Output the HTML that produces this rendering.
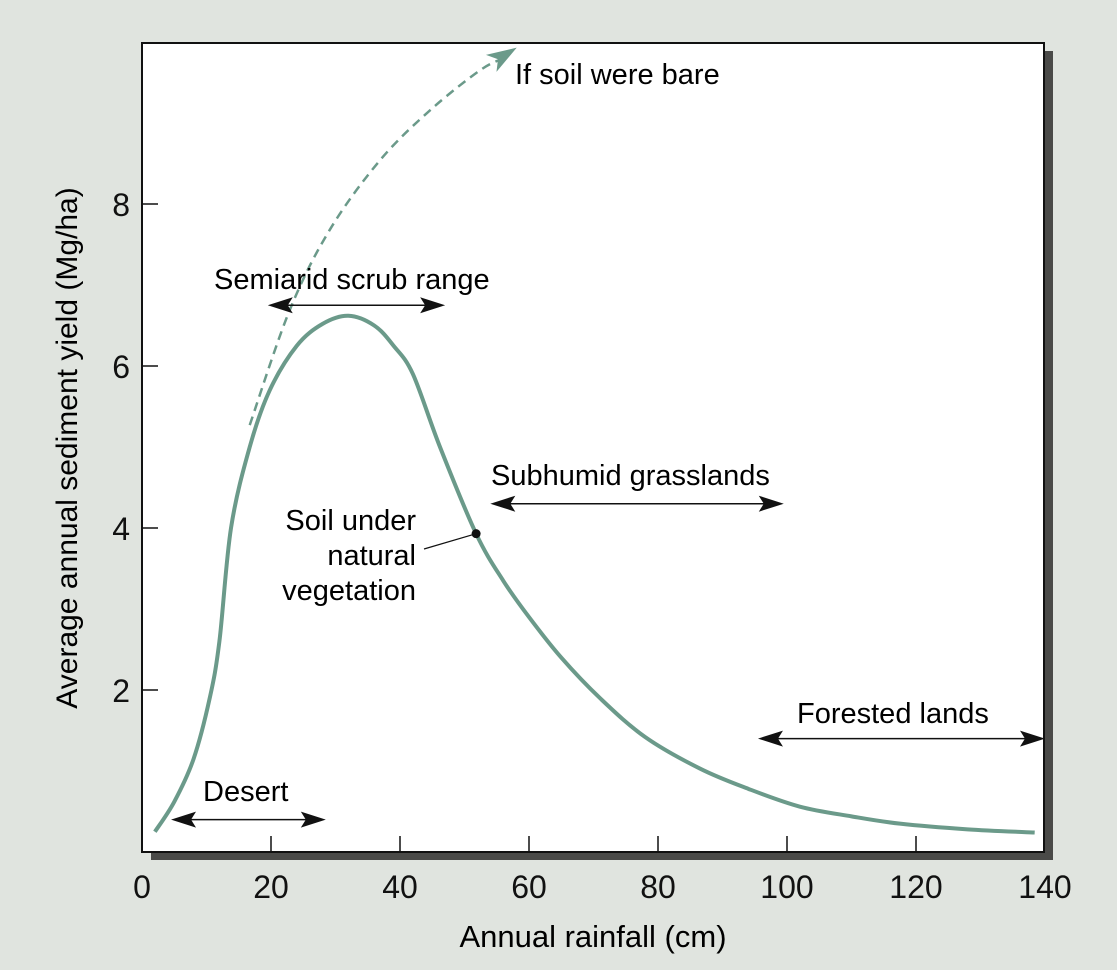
<!DOCTYPE html>
<html><head><meta charset="utf-8"><style>
body{margin:0;background:#e0e4df;}
svg{display:block;font-family:"Liberation Sans",sans-serif;}
</style></head><body>
<svg width="1117" height="970" viewBox="0 0 1117 970">
<rect x="0" y="0" width="1117" height="970" fill="#e0e4df"/>
<rect x="151" y="51" width="902" height="809" fill="#4a4a48"/>
<rect x="142" y="43" width="902" height="809" fill="#fff" stroke="#111" stroke-width="2"/>
<g id="ticks"></g>
<g id="marks"></g>
<text x="515" y="84" font-size="29">If soil were bare</text>
<text x="214" y="289" font-size="29">Semiarid scrub range</text>
<text x="491" y="485" font-size="29">Subhumid grasslands</text>
<text x="797" y="723" font-size="29">Forested lands</text>
<text x="203" y="801" font-size="29">Desert</text>
<g font-size="29" text-anchor="end">
<text x="416" y="530">Soil under</text><text x="416" y="565">natural</text><text x="416" y="600">vegetation</text></g>
<text x="593" y="947" font-size="31" text-anchor="middle">Annual rainfall (cm)</text>
<text transform="translate(77,448) rotate(-90)" font-size="30" text-anchor="middle">Average annual sediment yield (Mg/ha)</text>
</svg>
<script>
const xTicks=[0,20,40,60,80,100,120,140];
const yTicks=[2,4,6,8];
const rainfall=[2,5,8,10.5,12,13.8,16.7,19.8,24,28,32,36,39,42,46.2,51.8,56,60,65,71,78,86.5,94,102,110,117.5,128,138.4];
const sediment=[0.25,0.62,1.15,1.9,2.6,4.0,5.0,5.7,6.25,6.52,6.62,6.5,6.25,5.9,5.0,3.93,3.35,2.9,2.4,1.9,1.42,1.03,0.78,0.56,0.44,0.35,0.28,0.24];
const bareX=[16.7,22.9,29.1,36.9,44.7,52.4,58.1];
const bareY=[5.27,6.69,7.68,8.54,9.16,9.65,9.93];
const ranges=[[4.5,28.5,0.4],[19.5,47,6.75],[54,99.5,4.3],[95.5,140,1.4]];
const ns='http://www.w3.org/2000/svg';
const X=v=>142+v*6.45, Y=v=>852-v*81;
const tg=document.getElementById('ticks'), mg=document.getElementById('marks');
function mk(t,a,p){const e=document.createElementNS(ns,t);for(const k in a)e.setAttribute(k,a[k]);(p||mg).appendChild(e);return e;}
xTicks.forEach(v=>{
 if(v>0&&v<140){const l=mk('line',{x1:X(v),x2:X(v),y1:852,y2:836,stroke:'#111','stroke-width':1.5},tg);
 
 }
 const t=mk('text',{x:X(v),y:898,'font-size':32,'text-anchor':'middle',fill:'#111'},tg);t.textContent=v;
 
 
});
yTicks.forEach(v=>{
 const l=mk('line',{x1:142,x2:158,y1:Y(v),y2:Y(v),stroke:'#111','stroke-width':1.5},tg);
 
 
 const t=mk('text',{x:130,y:Y(v)+12,'font-size':32,'text-anchor':'end',fill:'#111'},tg);t.textContent=v;
 
 
});
function smooth(xs,ys){const p=xs.map((x,i)=>[X(x),Y(ys[i])]);let d='M'+p[0];
 for(let i=0;i<p.length-1;i++){const p0=p[i-1]||p[i],p1=p[i],p2=p[i+1],p3=p[i+2]||p2;
 d+=` C${p1[0]+(p2[0]-p0[0])/6},${p1[1]+(p2[1]-p0[1])/6} ${p2[0]-(p3[0]-p1[0])/6},${p2[1]-(p3[1]-p1[1])/6} ${p2[0]},${p2[1]}`;}return d;}
const c=mk('path',{d:smooth(rainfall,sediment),fill:'none',stroke:'#6b9a8a','stroke-width':4});


const n=bareX.length,tx=X(bareX[n-1]),ty=Y(bareY[n-1]),px=X(bareX[n-2]),py=Y(bareY[n-2]);
const ang=Math.atan2(ty-py,tx-px),ca=Math.cos(ang),sa=Math.sin(ang);
const b=mk('path',{d:smooth(bareX.slice(0,n-1).concat([bareX[n-1]-2]),bareY.slice(0,n-1).concat([bareY[n-1]-0.13])),fill:'none',stroke:'#6b9a8a','stroke-width':2.5,'stroke-dasharray':'9 6'});


const ah=mk('polygon',{points:`${tx},${ty} ${tx-30*ca+10*sa},${ty-30*sa-10*ca} ${tx-22*ca},${ty-22*sa} ${tx-30*ca-10*sa},${ty-30*sa+10*ca}`,fill:'#6b9a8a'});


ranges.forEach(r=>{const x1=X(r[0]),x2=X(r[1]),y=Y(r[2]);
 const g=mk('g',{});
 
 
 mk('line',{x1:x1+10,x2:x2-10,y1:y,y2:y,stroke:'#111','stroke-width':1.5},g);
 mk('polygon',{points:`${x1},${y} ${x1+25},${y-8} ${x1+20},${y} ${x1+25},${y+8}`,fill:'#111'},g);
 mk('polygon',{points:`${x2},${y} ${x2-25},${y-8} ${x2-20},${y} ${x2-25},${y+8}`,fill:'#111'},g);
});
const ld=mk('line',{x1:424,y1:549,x2:X(51.8),y2:Y(3.93),stroke:'#111','stroke-width':1.2});


const dt=mk('circle',{cx:X(51.8),cy:Y(3.93),r:4.5,fill:'#111'});


</script>
</body></html>
